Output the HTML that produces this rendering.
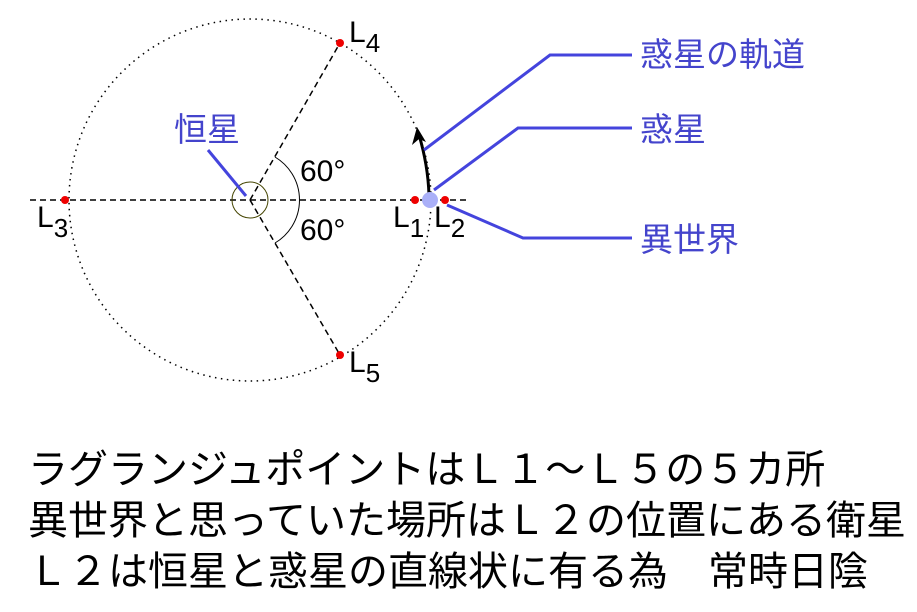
<!DOCTYPE html>
<html><head><meta charset="utf-8"><style>
body{margin:0;background:#fff;width:917px;height:612px;overflow:hidden}
svg{position:absolute;left:0;top:0}
.t{position:absolute;left:28px;font-family:"Liberation Sans","Noto Sans CJK JP",sans-serif;font-size:40px;line-height:40px;white-space:pre;color:#000}
</style></head><body>
<svg width="917" height="612" xmlns="http://www.w3.org/2000/svg" font-family="Liberation Sans, Noto Sans CJK JP, sans-serif">
<circle cx="250" cy="200" r="181" fill="none" stroke="#000" stroke-width="1.5" stroke-dasharray="1.5 4.5"/>
<line x1="30" y1="200" x2="468" y2="200" stroke="#000" stroke-width="1.5" stroke-dasharray="6 4"/>
<line x1="250" y1="200" x2="340" y2="43" stroke="#000" stroke-width="1.5" stroke-dasharray="6 4"/>
<line x1="250" y1="200" x2="340" y2="355" stroke="#000" stroke-width="1.5" stroke-dasharray="6 4"/>
<circle cx="250" cy="200" r="18" fill="none" stroke="#444400" stroke-width="1"/>
<path d="M275 157 A50 50 0 0 1 275 243" fill="none" stroke="#000" stroke-width="1"/>
<path d="M429 195 Q428 165 419 135" fill="none" stroke="#000" stroke-width="3"/>
<path d="M417 127 L412 145 L419 139 L426 142 Z" fill="#000"/>
<g stroke="#4444dd" stroke-width="3" fill="none">
<polyline points="424,150 550,55 632,55"/>
<polyline points="434,190 518,128 632,128"/>
<polyline points="447,205 523,238 632,238"/>
<line x1="208" y1="150" x2="246" y2="196"/>
</g>
<circle cx="430" cy="200" r="8" fill="#aab0f8"/>
<g fill="#ee0000"><circle cx="415" cy="200" r="4"/><circle cx="445" cy="200" r="4"/><circle cx="65" cy="200" r="4"/><circle cx="340" cy="43" r="4"/><circle cx="340" cy="355" r="4"/></g>
<g font-size="30" fill="#000">
<text x="300" y="181">60°</text><text x="300" y="240">60°</text>
<text x="349" y="42">L<tspan font-size="26" dy="10">4</tspan></text>
<text x="349" y="372">L<tspan font-size="26" dy="10">5</tspan></text>
<text x="37" y="227">L<tspan font-size="26" dy="10">3</tspan></text>
<text x="393" y="227">L<tspan font-size="26" dy="10">1</tspan></text>
<text x="434" y="227">L<tspan font-size="26" dy="10">2</tspan></text>
</g>
<g font-size="33" fill="#4444cc">
<text x="640" y="66">惑星の軌道</text>
<text x="640" y="141">惑星</text>
<text x="640" y="251">異世界</text>
<text x="174" y="141">恒星</text>
</g>
</svg>
<div class="t" style="top:450px">ラグランジュポイントはＬ１～Ｌ５の５カ所</div>
<div class="t" style="top:501px">異世界と思っていた場所はＬ２の位置にある衛星</div>
<div class="t" style="top:552px">Ｌ２は恒星と惑星の直線状に有る為　常時日陰</div>
</body></html>
